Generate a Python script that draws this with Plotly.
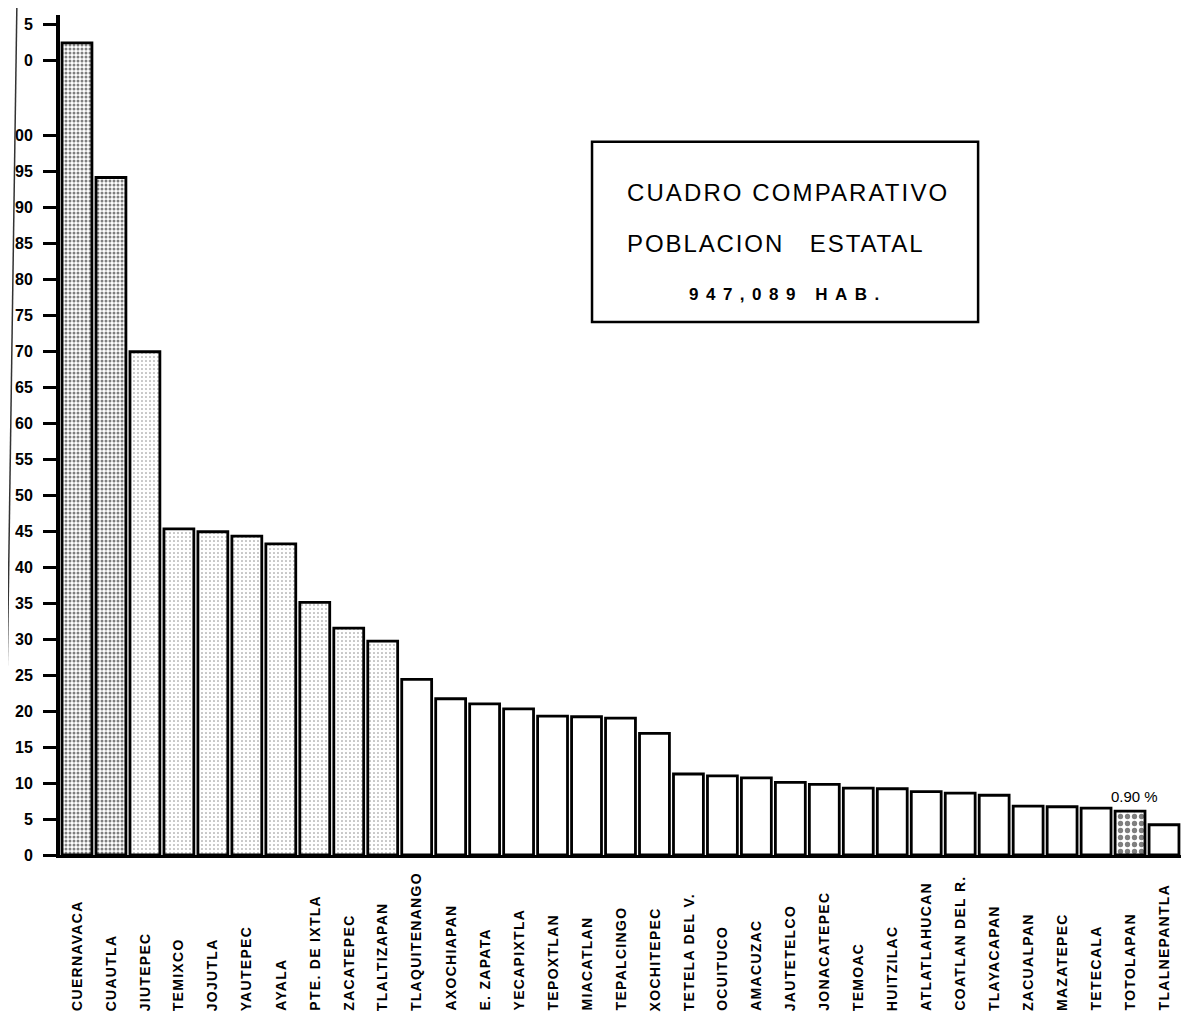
import numpy as np
import plotly.graph_objects as go

# ---------------- data ----------------
municipios = [
    "CUERNAVACA", "CUAUTLA", "JIUTEPEC", "TEMIXCO", "JOJUTLA", "YAUTEPEC",
    "AYALA", "PTE. DE IXTLA", "ZACATEPEC", "TLALTIZAPAN", "TLAQUITENANGO",
    "AXOCHIAPAN", "E. ZAPATA", "YECAPIXTLA", "TEPOXTLAN", "MIACATLAN",
    "TEPALCINGO", "XOCHITEPEC", "TETELA DEL V.", "OCUITUCO", "AMACUZAC",
    "JAUTETELCO", "JONACATEPEC", "TEMOAC", "HUITZILAC", "ATLATLAHUCAN",
    "COATLAN DEL R.", "TLAYACAPAN", "ZACUALPAN", "MAZATEPEC", "TETECALA",
    "TOTOLAPAN", "TLALNEPANTLA",
]
poblacion = [
    232.4, 94.1, 69.9, 45.3, 44.9, 44.3,
    43.2, 35.1, 31.5, 29.7, 24.4,
    21.7, 21.0, 20.3, 19.3, 19.2,
    19.0, 16.9, 11.25, 11.0, 10.7,
    10.1, 9.8, 9.3, 9.2, 8.8,
    8.6, 8.3, 6.8, 6.7, 6.5,
    6.1, 4.2,
]
tick_values = list(range(0, 101, 5)) + [230, 235]
tick_labels = [str(v) for v in range(0, 96, 5)] + ["00", "0", "5"]
pct_label = "0.90 %"
pct_municipio = "TOTOLAPAN"
box_lines = ["CUADRO COMPARATIVO", "POBLACION\u00a0\u00a0\u00a0ESTATAL", "947,089 HAB."]

# scale break (axis jumps from 100 to 230)
BREAK_AT = 100
BREAK_SHIFT = 119.6


def to_axis(v):
    v = np.asarray(v, dtype=float)
    return np.where(v > BREAK_AT, v - BREAK_SHIFT, v)


y_disp = to_axis(poblacion)
tick_disp = to_axis(tick_values)

# fill styles
shapes_pat, solid_pat, size_pat = [], [], []
for i, m in enumerate(municipios):
    if i in (0, 1):
        shapes_pat.append("."); solid_pat.append(0.45); size_pat.append(4)
    elif 2 <= i <= 9:
        shapes_pat.append("."); solid_pat.append(0.12); size_pat.append(4)
    elif m == pct_municipio:
        shapes_pat.append("."); solid_pat.append(0.45); size_pat.append(7)
    else:
        shapes_pat.append(""); solid_pat.append(0.1); size_pat.append(4)

fig = go.Figure()
fig.add_trace(go.Bar(
    x=municipios,
    y=y_disp,
    marker=dict(
        color="white",
        line=dict(color="black", width=2.8),
        pattern=dict(shape=shapes_pat, solidity=solid_pat, size=size_pat,
                     fgcolor="black", bgcolor="white", fillmode="overlay"),
    ),
    showlegend=False,
))

FONT = "Liberation Sans, Arial, sans-serif"
annotations = []
for m in municipios:
    annotations.append(dict(
        x=m, xref="x", y=-0.188, yref="paper",
        text=f'<span style="letter-spacing:1.3px">{m}</span>',
        textangle=-90, xanchor="center", yanchor="bottom", showarrow=False,
        font=dict(family=FONT, size=14, color="black", weight="bold"),
    ))

pct_idx = municipios.index(pct_municipio)
annotations.append(dict(
    x=pct_municipio, xref="x", y=float(y_disp[pct_idx]), yref="y",
    text=pct_label, yshift=4, xshift=4, yanchor="bottom", showarrow=False,
    font=dict(family=FONT, size=15, color="black"),
))

box_x0, box_x1 = 0.4746, 0.819
box_y0, box_y1 = 0.6345, 0.849
xc = (box_x0 + box_x1) / 2
annotations += [
    dict(x=xc + 0.003, y=0.807, xref="paper", yref="paper", showarrow=False,
         text=f'<span style="letter-spacing:2.1px">{box_lines[0]}</span>',
         font=dict(family=FONT, size=24, color="black")),
    dict(x=xc - 0.008, y=0.746, xref="paper", yref="paper", showarrow=False,
         text=f'<span style="letter-spacing:1.9px">{box_lines[1]}</span>',
         font=dict(family=FONT, size=24, color="black")),
    dict(x=xc + 0.003, y=0.681, xref="paper", yref="paper", showarrow=False,
         text=f'<span style="letter-spacing:7.5px">{box_lines[2]}</span>',
         font=dict(family=FONT, size=17, color="black", weight="bold")),
]

shapes = [
    dict(type="rect", xref="paper", yref="paper", x0=box_x0, x1=box_x1,
         y0=box_y0, y1=box_y1, line=dict(color="black", width=2.5)),
    # edge of the scanned sheet
    dict(type="line", xref="paper", yref="paper", x0=-0.0384, y0=1.0179,
         x1=-0.0517, y1=-0.2036, line=dict(color="#333", width=1.5)),
]

# the page body adds an 8px offset; compensate so the plot lands where the
# reference has it
fig.update_layout(
    width=1183, height=1018,
    margin=dict(l=52, r=10, t=7, b=171, autoexpand=False),
    paper_bgcolor="white", plot_bgcolor="white",
    bargap=0.12,
    annotations=annotations,
    shapes=shapes,
    xaxis=dict(
        showticklabels=False, ticks="", showgrid=False, zeroline=False,
        showline=True, linecolor="black", linewidth=3, automargin=False,
        range=[-0.5, len(municipios) - 0.5],
    ),
    yaxis=dict(
        range=[0, 116.67], tickvals=list(tick_disp), ticktext=tick_labels,
        ticks="outside", ticklen=13, tickwidth=2.8, tickcolor="black",
        ticklabelstandoff=7,
        showline=True, linecolor="black", linewidth=4, automargin=False,
        showgrid=False, zeroline=False,
        tickfont=dict(family=FONT, size=16, color="black", weight="bold"),
    ),
)

fig.write_html("out.html")
